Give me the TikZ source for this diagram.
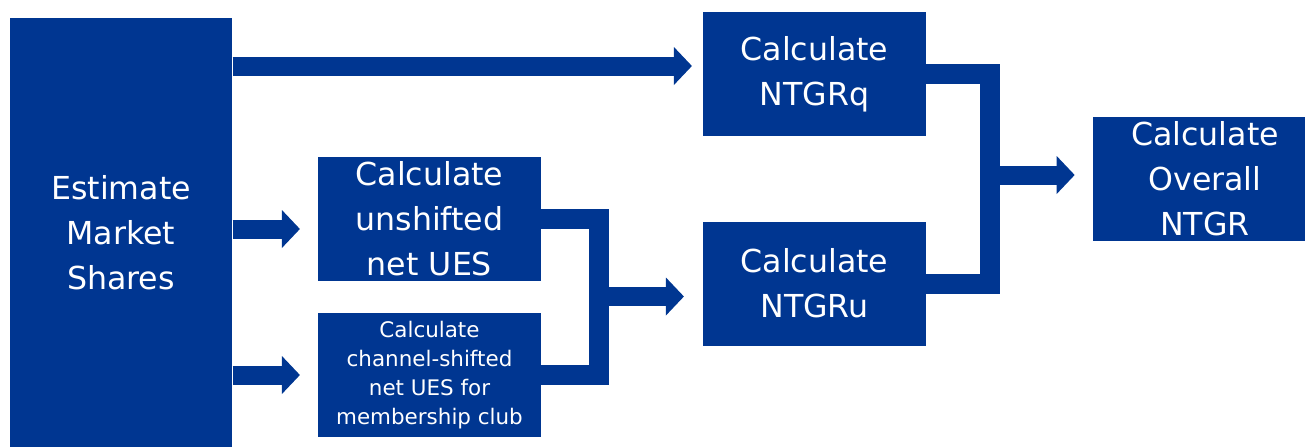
\documentclass[tikz,border=0pt]{standalone}
\usepackage{fontspec}
\setmainfont{DejaVu Sans}
\usepackage{xcolor}
\usepackage{tikz}
\usetikzlibrary{arrows.meta,positioning}
\definecolor{ntgblue}{RGB}{0,54,145}

\begin{document}
\begin{tikzpicture}[
    box/.style={fill=ntgblue, draw=none, text=white, align=center, inner sep=0pt,
      minimum width=4.45cm, minimum height=2.48cm,
      font=\fontsize{18}{25.6}\selectfont},
    bar/.style={draw=ntgblue, line width=0.4cm, line join=miter},
    flow/.style={draw=ntgblue, line width=0.38cm,
      -{Triangle[length=0.36cm, width=0.76cm, line width=0pt]}}]
    \useasboundingbox (0, 0) rectangle (26.1, -8.92);
    % boxes, 1 px of the layout = 0.02 cm
    \node[box, minimum height=8.6cm] (est) at (2.42, -4.66) {Estimate\\Market\\Shares};
    \node[box] (unsh) at (8.59, -4.38) {Calculate\\unshifted\\net UES};
    \node[box, font=\fontsize{12.2}{16.5}\selectfont] (chan) at (8.59, -7.50)
      {Calculate\\channel-shifted\\net UES for\\membership club};
    \node[box] (q) at (16.29, -1.48) {Calculate\\NTGRq};
    \node[box] (u) at (16.29, -5.67) {Calculate\\NTGRu};
    \node[box, minimum width=4.48cm] (ov) at (24.10, -3.58) {Calculate\\Overall\\NTGR};

    % arrows out of the market shares
    \coordinate (qin) at ([yshift=0.16cm]q.west);
    \coordinate (uin) at ([yshift=-0.2cm]unsh.west);
    \draw[flow, shorten >=0.22cm] (est.east |- qin) -- (qin);
    \draw[flow, shorten >=0.36cm] (est.east |- uin) -- (uin);
    \draw[flow, shorten >=0.36cm] (est.east |- chan.west) -- (chan.west);

    % join the two UES boxes
    \coordinate (j1) at (11.98, -5.93);
    \draw[bar] (unsh.east) -| (j1) |- (chan.east);
    \draw[flow, shorten >=0.38cm] (j1) -- (j1 -| u.west);

    % join NTGRq and NTGRu
    \coordinate (j2) at (19.80, -3.50);
    \draw[bar] (q.east) -| (j2) |- (u.east);
    \draw[flow, shorten >=0.36cm] (j2) -- (j2 -| ov.west);
\end{tikzpicture}
\end{document}
